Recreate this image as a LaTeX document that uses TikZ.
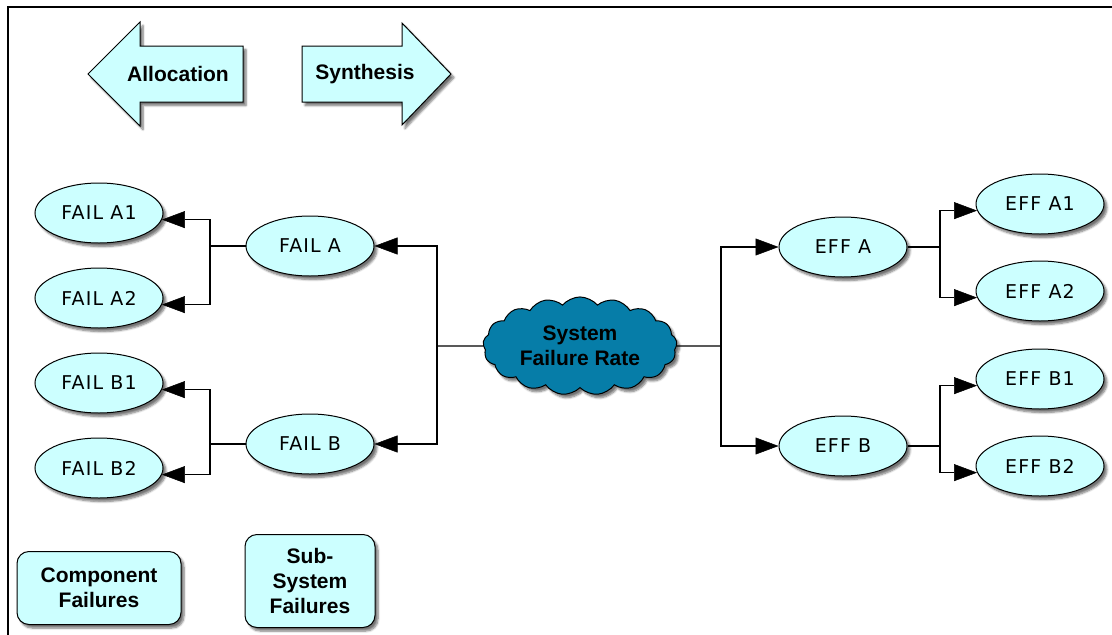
\documentclass[tikz,border=0pt]{standalone}
\usepackage{fontspec}
\setmainfont{Liberation Sans}
\newfontfamily\ellfont[LetterSpace=6]{DejaVu Sans}
\usetikzlibrary{shapes.geometric,shapes.symbols,arrows.meta,shadows.blur}
\definecolor{lcyan}{RGB}{204,255,255}
\definecolor{cloudblue}{RGB}{6,125,168}
\begin{document}
\begin{tikzpicture}[x=1pt,y=-1pt,
 shade/.style={blur shadow={shadow xshift=3pt,shadow yshift=-3.5pt,shadow blur steps=6,shadow opacity=55}},
 ell/.style={ellipse,draw=black,line width=1pt,fill=lcyan,minimum width=128pt,minimum height=60pt,inner sep=0pt,font=\ellfont\fontsize{19}{21}\selectfont,shade},
 lbl/.style={font=\bfseries\fontsize{21}{25}\selectfont,align=center},
 rbox/.style={draw=black,line width=1pt,fill=lcyan,rounded corners=12pt,inner sep=0pt,shade,font=\bfseries\fontsize{21}{25}\selectfont,align=center},
 conn/.style={line width=1.3pt,draw=black,opacity=1,fill opacity=1},
 arr/.style={conn,-{Triangle[length=23pt,width=17pt,fill=black,line width=0.5pt]}},
]
\useasboundingbox (0,0) rectangle (1112,635);
\draw[line width=1.5pt] (8,635) -- (8,7) -- (1112,7);

% block arrows
\filldraw[fill=lcyan,draw=black,line width=1pt,shade]
  (88,74) -- (140,22) -- (140,46) -- (243,46) -- (243,102) -- (140,102) -- (140,126) -- cycle;
\node[lbl] (alloc) at (178,74) {Allocation};
\filldraw[fill=lcyan,draw=black,line width=1pt,shade]
  (451,74) -- (402,23) -- (402,46) -- (302,46) -- (302,102) -- (402,102) -- (402,125) -- cycle;
\node[lbl] (synth) at (365,74) {Synthesis};

% cloud
\node[cloud,cloud puffs=17,cloud puff arc=100,aspect=2,draw=black,line width=1pt,fill=cloudblue,
  minimum width=194pt,minimum height=98pt,inner sep=0pt,shade,lbl] (sys) at (580,346) {System\\Failure Rate};

% ellipses
\node[ell] (fA1) at (99,213) {FAIL A1};
\node[ell] (fA2) at (99,298) {FAIL A2};
\node[ell] (fB1) at (99,383) {FAIL B1};
\node[ell] (fB2) at (99,468) {FAIL B2};
\node[ell] (fA) at (310,246) {FAIL A};
\node[ell] (fB) at (310,444) {FAIL B};
\node[ell] (eA) at (843,247) {EFF A};
\node[ell] (eB) at (843,446) {EFF B};
\node[ell] (eA1) at (1040,204) {EFF A1};
\node[ell] (eA2) at (1040,291) {EFF A2};
\node[ell] (eB1) at (1040,379) {EFF B1};
\node[ell] (eB2) at (1040,466) {EFF B2};

% bottom boxes
\node[rbox,minimum width=164pt,minimum height=73pt] (comp) at (99,588) {Component\\Failures};
\node[rbox,minimum width=130pt,minimum height=93pt] (subs) at (310,581) {Sub-\\System\\Failures};

% connectors
\coordinate (cl) at (437,346);
\coordinate (cr) at (721,346);
\draw[conn] (sys.west) -- (cl);
\draw[arr] (cl) |- (fA.east);
\draw[arr] (cl) |- (fB.east);
\draw[conn] (sys.east) -- (cr);
\draw[arr] (cr) |- (eA.west);
\draw[arr] (cr) |- (eB.west);

\coordinate (la) at (210,246);
\coordinate (lb) at (210,444);
\draw[conn] (fA.west) -- (la);
\draw[arr] (la) |- (fA1.-6);
\draw[arr] (la) |- (fA2.-6);
\draw[conn] (fB.west) -- (lb);
\draw[arr] (lb) |- (fB1.-6);
\draw[arr] (lb) |- (fB2.-6);

\coordinate (ra) at (940,247);
\coordinate (rb) at (940,446);
\draw[conn] (eA.east) -- (ra);
\draw[arr] (ra) |- (eA1.186);
\draw[arr] (ra) |- (eA2.186);
\draw[conn] (eB.east) -- (rb);
\draw[arr] (rb) |- (eB1.186);
\draw[arr] (rb) |- (eB2.186);
\end{tikzpicture}
\end{document}
